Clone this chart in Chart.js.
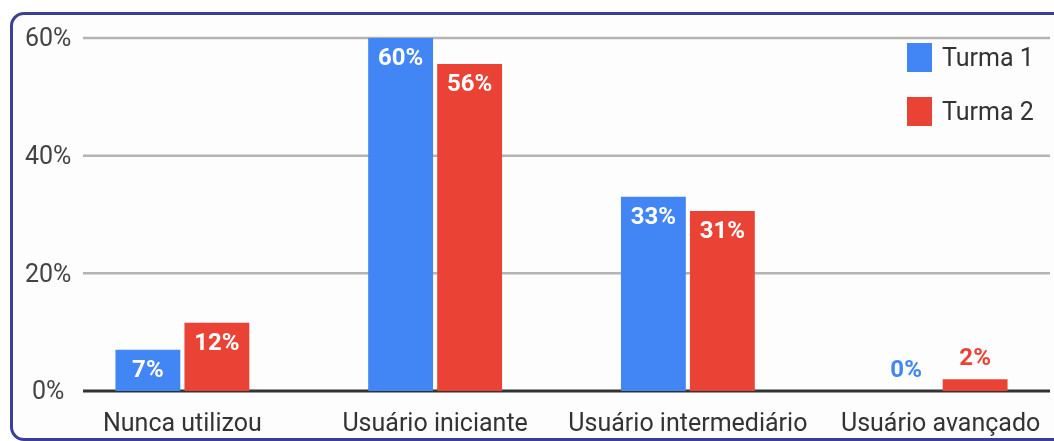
<!DOCTYPE html>
<html>
<head>
<meta charset="utf-8">
<script src="https://cdn.jsdelivr.net/npm/chart.js@4"></script>
<style>
  body { margin: 0; background: #fff; overflow: hidden; font-family: Roboto, sans-serif; }
  #frame { position: absolute; left: 10px; top: 12px; width: 1080px; height: 423px;
           border: 3px solid #3b3f98; border-radius: 14px; background: #fdfdfd; }
  #wrap { position: absolute; left: 0; top: 0; width: 1070px; height: 441px; }
  #legend { position: absolute; left: 907px; top: 43px; }
  .item { display: flex; align-items: center; height: 29px; margin-bottom: 25px; }
  .box { width: 25px; height: 29px; margin-right: 10px; }
  .item span { font-size: 25px; color: #333; }
</style>
</head>
<body>
<div id="frame"></div>
<div id="wrap"><canvas id="myBarChart" width="1070" height="441"></canvas></div>
<div id="legend"></div>
<script>
const categories = ['Nunca utilizou', 'Usuário iniciante', 'Usuário intermediário', 'Usuário avançado'];
const seriesNames = ['Turma 1', 'Turma 2'];
const turma1 = [7, 60, 33, 0];
const turma2 = [11.6, 55.6, 30.6, 2];
const yTicks = [0, 20, 40, 60];
const colors = ['#4285f4', '#ea4335'];

const data = {
    labels: categories,
    datasets: [
        { label: seriesNames[0], data: turma1, backgroundColor: colors[0] },
        { label: seriesNames[1], data: turma2, backgroundColor: colors[1] }
    ]
};

// grid lines start right of the y labels, not at the chart area edge
const gridPlugin = {
    id: 'gridLines',
    beforeDatasetsDraw(chart) {
        const c = chart.ctx;
        const y = chart.scales.y;
        c.save();
        yTicks.forEach(v => {
            const py = y.getPixelForValue(v);
            c.beginPath();
            c.strokeStyle = v === 0 ? '#333' : '#b4b4b4';
            c.lineWidth = v === 0 ? 3 : 2.5;
            c.moveTo(83, py);
            c.lineTo(1050, py);
            c.stroke();
        });
        c.restore();
    }
};

const valueLabels = {
    id: 'valueLabels',
    afterDatasetsDraw(chart) {
        const c = chart.ctx;
        c.save();
        c.font = 'bold 24px Roboto, sans-serif';
        c.textAlign = 'center';
        c.textBaseline = 'middle';
        chart.data.datasets.forEach((ds, i) => {
            chart.getDatasetMeta(i).data.forEach((bar, j) => {
                const txt = Math.round(ds.data[j]) + '%';
                const h = bar.base - bar.y;
                if (h > 30) {
                    c.fillStyle = '#fff';
                    c.fillText(txt, bar.x, bar.y + 21);
                } else {
                    c.fillStyle = ds.backgroundColor;
                    c.fillText(txt, bar.x, bar.y - 20);
                }
            });
        });
        c.restore();
    }
};

const config = {
    type: 'bar',
    data: data,
    options: {
        responsive: false,
        animation: false,
        categoryPercentage: 0.546,
        barPercentage: 0.94,
        layout: { padding: { top: 38, right: 3, left: 0, bottom: 0 } },
        scales: {
            x: {
                grid: { display: false },
                border: { display: false },
                ticks: {
                    color: '#333',
                    font: { size: 25, family: 'Roboto' },
                    padding: 11,
                    maxRotation: 0,
                    autoSkip: false
                },
                afterFit(scale) { scale.height = 50; }
            },
            y: {
                min: 0,
                max: 60,
                grid: { display: false, drawTicks: false },
                border: { display: false },
                ticks: {
                    stepSize: 20,
                    color: '#444',
                    font: { size: 25, family: 'Roboto' },
                    mirror: true,
                    crossAlign: 'center',
                    padding: -31,
                    labelOffset: 2,
                    callback: v => v + '%'
                },
                afterFit(scale) { scale.width = 56; }
            }
        },
        plugins: {
            legend: { display: false },
            tooltip: { enabled: false }
        }
    },
    plugins: [gridPlugin, valueLabels]
};

const ctx = document.getElementById('myBarChart').getContext('2d');
const myBarChart = new Chart(ctx, config);

const legend = document.getElementById('legend');
myBarChart.data.datasets.forEach(ds => {
    const item = document.createElement('div');
    item.className = 'item';
    item.innerHTML = '<div class="box" style="background:' + ds.backgroundColor + '"></div><span>' + ds.label + '</span>';
    legend.appendChild(item);
});
</script>
</body>
</html>
